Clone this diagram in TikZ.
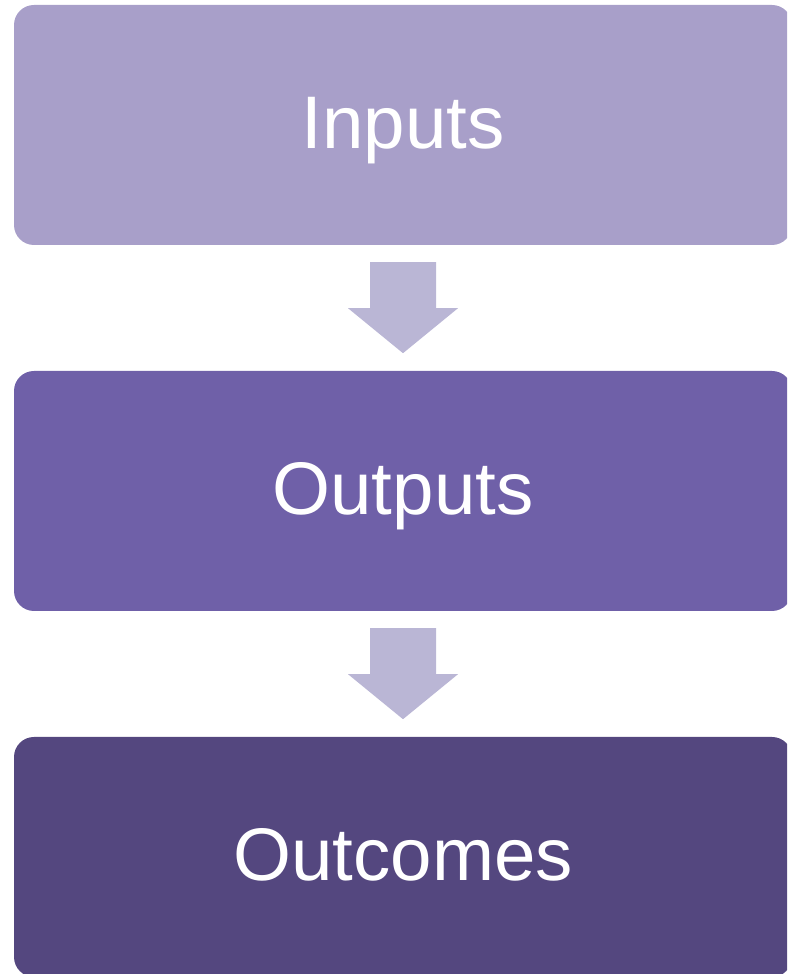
\documentclass[tikz,border=0pt]{standalone}
\usepackage{fontspec}
\setmainfont{Liberation Sans}
\usetikzlibrary{calc}
\definecolor{boxA}{HTML}{A89FC9}
\definecolor{boxB}{HTML}{6F60A8}
\definecolor{boxC}{HTML}{54477F}
\definecolor{arrowC}{HTML}{BAB6D5}
\begin{document}
\begin{tikzpicture}[x=1pt,y=1pt,
  stage/.style={rectangle, rounded corners=20pt, minimum width=778pt, minimum height=240pt,
    inner sep=0pt, text height=54pt, text depth=6pt, text=white, font=\fontsize{74.5}{90}\selectfont},
  blockarrow/.style={fill=arrowC, draw=none}]
\useasboundingbox (0,0) rectangle (787,974);
\begin{scope}
\clip (0,0) rectangle (787,974);
\node[stage, fill=boxA] (inputs) at (403,849) {Inputs};
\node[stage, fill=boxB] (outputs) at (403,483) {Outputs};
\node[stage, fill=boxC] (outcomes) at (403,117) {Outcomes};
\foreach \a/\b in {inputs/outputs, outputs/outcomes}{
  \coordinate (s) at ($(\a.south)+(0,-17)$);
  \fill[blockarrow] ($(s)+(-33,0)$) -- ($(s)+(33,0)$) -- ($(s)+(33,-46)$) -- ($(s)+(55,-46)$)
    -- ($(s)+(0,-91)$) -- ($(s)+(-55,-46)$) -- ($(s)+(-33,-46)$) -- cycle;
}
\end{scope}
\end{tikzpicture}
\end{document}
